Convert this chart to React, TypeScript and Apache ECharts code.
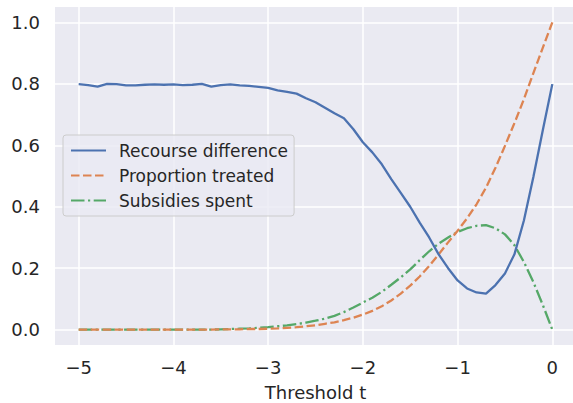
import React, { useEffect, useRef } from "react";
import * as echarts from "echarts";

const thresholds = [
  -5.0, -4.9, -4.8, -4.7, -4.6, -4.5, -4.4, -4.3, -4.2, -4.1,
  -4.0, -3.9, -3.8, -3.7, -3.6, -3.5, -3.4, -3.3, -3.2, -3.1,
  -3.0, -2.9, -2.8, -2.7, -2.6, -2.5, -2.4, -2.3, -2.2, -2.1,
  -2.0, -1.9, -1.8, -1.7, -1.6, -1.5, -1.4, -1.3, -1.2, -1.1,
  -1.0, -0.9, -0.8, -0.7, -0.6, -0.5, -0.4, -0.3, -0.2, -0.1,
  0.0,
];

const recourseDifference = [
  0.799, 0.796, 0.791, 0.8, 0.799, 0.795, 0.795, 0.797, 0.798, 0.797,
  0.798, 0.796, 0.797, 0.8, 0.791, 0.796, 0.798, 0.795, 0.793, 0.79,
  0.787, 0.779, 0.774, 0.768, 0.753, 0.74, 0.722, 0.704, 0.688, 0.652,
  0.61, 0.577, 0.538, 0.49, 0.445, 0.4, 0.348, 0.3, 0.245, 0.2,
  0.16, 0.134, 0.121, 0.117, 0.145, 0.183, 0.245, 0.355, 0.497, 0.65,
  0.799,
];

const proportionTreated = [
  0, 0, 0, 0, 0, 0, 0, 0, 0, 0,
  0, 0, 0, 0, 0, 0.001, 0.001, 0.001, 0.002, 0.002,
  0.003, 0.004, 0.006, 0.008, 0.011, 0.014, 0.019, 0.024, 0.031, 0.039,
  0.049, 0.061, 0.076, 0.095, 0.117, 0.143, 0.173, 0.207, 0.245, 0.284,
  0.322, 0.362, 0.408, 0.462, 0.527, 0.598, 0.672, 0.75, 0.835, 0.918,
  1.0,
];

const subsidiesSpent = [
  0, 0, 0, 0, 0, 0, 0, 0, 0, 0,
  0, 0, 0, 0, 0, 0.001, 0.002, 0.003, 0.004, 0.006,
  0.008, 0.011, 0.014, 0.018, 0.023, 0.029, 0.036, 0.045, 0.057, 0.072,
  0.088, 0.104, 0.123, 0.146, 0.17, 0.196, 0.226, 0.255, 0.28, 0.3,
  0.318, 0.33, 0.338, 0.34, 0.33, 0.31, 0.275, 0.22, 0.155, 0.08,
  0,
];

const xTicks = [-5, -4, -3, -2, -1, 0];
const yTicks = [0, 0.2, 0.4, 0.6, 0.8, 1.0];

const seriesNames = ["Recourse difference", "Proportion treated", "Subsidies spent"];
const seriesColors = ["#4C72B0", "#DD8452", "#55A868"];

const FONT = "DejaVu Sans";
const TEXT = "#262626";

export default function App() {
  const ref = useRef<HTMLDivElement>(null);

  useEffect(() => {
    if (!ref.current) return;
    const chart = echarts.init(ref.current, undefined, { renderer: "svg" });
    const pair = (ys: number[]) => thresholds.map((t, i) => [t, ys[i]]);
    const dashes: any[] = ["solid", [8.5, 3.5], [13.5, 3.5, 2.2, 3.5]];
    const datasets = [recourseDifference, proportionTreated, subsidiesSpent];

    chart.setOption({
      animation: false,
      backgroundColor: "#ffffff",
      textStyle: { fontFamily: FONT },
      grid: {
        left: 55,
        top: 7,
        width: 521,
        height: 338,
        containLabel: false,
        outerBoundsMode: "none",
        show: true,
        backgroundColor: "#EAEAF2",
        borderWidth: 0,
      },
      xAxis: {
        type: "value",
        min: -5.25,
        max: 0.25,
        name: "Threshold t",
        nameLocation: "middle",
        nameGap: 38,
        nameTextStyle: { fontSize: 18, color: TEXT, fontFamily: FONT },
        axisLine: { show: false },
        axisTick: { show: false, customValues: xTicks },
        axisLabel: {
          customValues: xTicks,
          fontSize: 18,
          color: TEXT,
          fontFamily: FONT,
          margin: 13,
          formatter: (v: number) => (v < 0 ? "\u2212" + Math.abs(v) : String(v)),
        },
        splitLine: { show: true, lineStyle: { color: "#ffffff", width: 1.5 } },
      },
      yAxis: {
        type: "value",
        min: -0.05,
        max: 1.05,
        axisLine: { show: false },
        axisTick: { show: false, customValues: yTicks },
        axisLabel: {
          customValues: yTicks,
          fontSize: 18,
          color: TEXT,
          fontFamily: FONT,
          margin: 15,
          formatter: (v: number) => v.toFixed(1),
        },
        splitLine: { show: true, lineStyle: { color: "#ffffff", width: 1.5 } },
      },
      legend: {
        orient: "vertical",
        left: 63,
        top: 135,
        padding: [7, 6, 7, 7],
        itemWidth: 35,
        itemHeight: 14,
        itemGap: 8,
        backgroundColor: "rgba(234,234,242,0.8)",
        borderColor: "#cccccc",
        borderWidth: 1,
        borderRadius: 3,
        itemStyle: { opacity: 0 },
        textStyle: {
          fontSize: 17,
          color: TEXT,
          fontFamily: FONT,
          lineHeight: 17,
          padding: [0, 0, 0, 8],
        },
        data: seriesNames,
      },
      series: datasets.map((ys, i) => ({
        name: seriesNames[i],
        type: "line",
        data: pair(ys),
        symbol: "none",
        showSymbol: false,
        color: seriesColors[i],
        lineStyle: { color: seriesColors[i], width: 2.3, type: dashes[i] },
        z: 3 - i,
      })),
    });

    return () => chart.dispose();
  }, []);

  return (
    <div
      ref={ref}
      style={{ position: "fixed", left: 0, top: 0, width: 573, height: 403 }}
    />
  );
}
